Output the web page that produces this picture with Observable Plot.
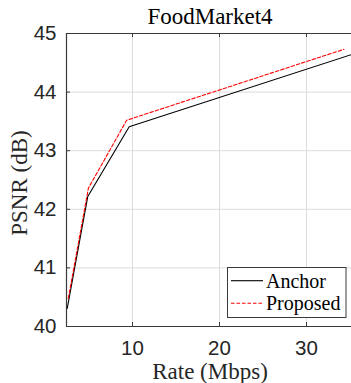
<!DOCTYPE html>
<html>
<head>
<meta charset="utf-8">
<script src="https://cdn.jsdelivr.net/npm/d3@7"></script>
<script src="https://cdn.jsdelivr.net/npm/@observablehq/plot@0.6"></script>
<style>
  html, body { margin: 0; padding: 0; background: #fff; }
  #chart { width: 351px; height: 383px; overflow: hidden; }
  .serif { font-family: "Liberation Serif", "DejaVu Serif", serif; }
</style>
</head>
<body>
<div id="chart"></div>
<script>
// ---- data ----
const title = "FoodMarket4";
const xLabel = "Rate (Mbps)";
const yLabel = "PSNR (dB)";
const seriesNames = ["Anchor", "Proposed"];
const anchorRate = [2.5, 4.86, 9.62, 35.17];
const anchorPSNR = [40.31, 42.22, 43.41, 44.64];
const proposedRate = [2.62, 4.93, 9.33, 34.3];
const proposedPSNR = [40.48, 42.36, 43.52, 44.73];
const xTicks = [10, 20, 30];
const yTicks = [40, 41, 42, 43, 44, 45];
const xDomain = [2.414, 35.17];
const yDomain = [40, 45];

const rows = [
  ...anchorRate.map((r, i) => ({series: seriesNames[0], rate: r, psnr: anchorPSNR[i]})),
  ...proposedRate.map((r, i) => ({series: seriesNames[1], rate: r, psnr: proposedPSNR[i]}))
];

const W = 351, H = 383;
const mL = 66, mR = 0, mT = 33, mB = 57;
const innerH = H - mT - mB;
const axisColor = "#3a3a3a";
const sans = "'Liberation Sans', Arial, Helvetica, sans-serif";

const chart = Plot.plot({
  width: W, height: H,
  marginLeft: mL, marginRight: mR, marginTop: mT, marginBottom: mB,
  x: {domain: xDomain},
  y: {domain: yDomain},
  style: {fontFamily: sans, fontSize: "20px", color: "#262626", background: "#fff"},
  marks: [
    Plot.gridX(xTicks, {stroke: "#dcdcdc", strokeOpacity: 1}),
    Plot.gridY(yTicks.slice(1, -1), {stroke: "#dcdcdc", strokeOpacity: 1}),
    Plot.line(rows.filter(d => d.series === "Anchor"), {x: "rate", y: "psnr", stroke: "#000", strokeWidth: 1.1}),
    Plot.line(rows.filter(d => d.series === "Proposed"), {x: "rate", y: "psnr", stroke: "#ff0000", strokeWidth: 1.1, strokeDasharray: "3.5,2"}),
    // inward ticks
    Plot.ruleX(xTicks, {x: d => d, insetTop: innerH - 4, stroke: axisColor}),
    Plot.ruleX(xTicks, {x: d => d, insetBottom: innerH - 4, stroke: axisColor}),
    Plot.ruleY(yTicks, {y: d => d, insetRight: W - mL - mR - 4, stroke: axisColor}),
    // axis lines
    Plot.ruleX([xDomain[0]], {stroke: axisColor, strokeWidth: 1.2}),
    Plot.ruleY([yDomain[0], yDomain[1]], {stroke: axisColor, strokeWidth: 1.2}),
    Plot.axisX(xTicks, {tickSize: 0, tickPadding: 14, label: null, fontSize: 20.5, fill: "#262626", tickFormat: d => String(d)}),
    Plot.axisY(yTicks, {tickSize: 0, tickPadding: 10, label: null, fontSize: 20.5, fill: "#262626", tickFormat: d => String(d)})
  ]
});

const svg = d3.select(chart);
function addText(sel, txt, size, fill) {
  return sel.append("text").attr("class", "serif")
    .attr("font-family", "Liberation Serif, DejaVu Serif, serif")
    .attr("font-size", size).attr("fill", fill).text(txt);
}
// title
addText(svg, title, 23, "#000").attr("x", 210).attr("y", 24).attr("text-anchor", "middle");
// x label
addText(svg, xLabel, 23, "#262626").attr("x", 210).attr("y", 379).attr("text-anchor", "middle");
// y label
addText(svg, yLabel, 23, "#262626").attr("transform", "translate(27,183) rotate(-90)").attr("text-anchor", "middle");

// legend
const lg = svg.append("g");
lg.append("rect").attr("x", 227.5).attr("y", 267.5).attr("width", 118.5).attr("height", 50)
  .attr("fill", "#fff").attr("stroke", axisColor).attr("stroke-width", 1);
const legendStyles = [
  {name: seriesNames[0], stroke: "#000", dash: null, y: 280.7},
  {name: seriesNames[1], stroke: "#ff0000", dash: "3.5,2", y: 303.3}
];
legendStyles.forEach(s => {
  lg.append("line").attr("x1", 231).attr("x2", 263).attr("y1", s.y).attr("y2", s.y)
    .attr("stroke", s.stroke).attr("stroke-width", 1.1).attr("stroke-dasharray", s.dash);
  addText(lg, s.name, 20, "#000").attr("x", 266).attr("y", s.y).attr("dy", "0.35em")
    .attr("text-anchor", "start");
});

document.getElementById("chart").appendChild(chart);
</script>
</body>
</html>
